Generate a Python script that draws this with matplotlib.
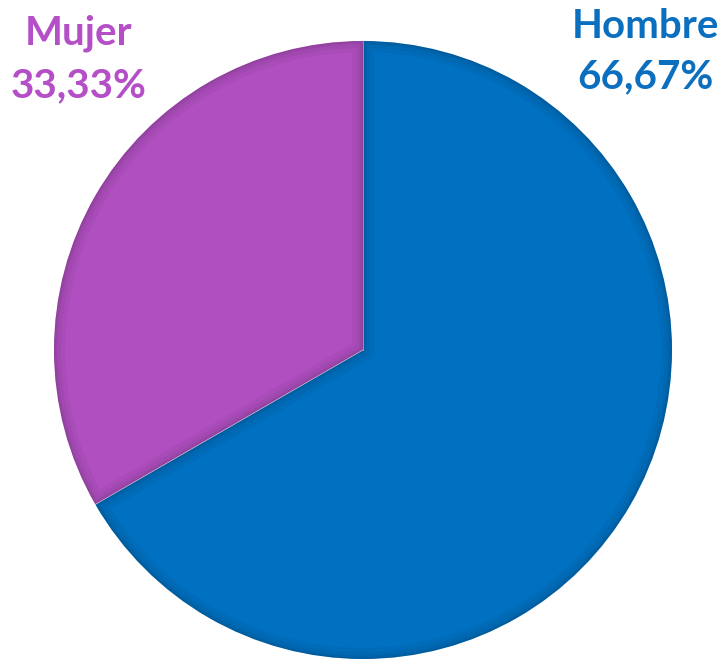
import numpy as np
import matplotlib.pyplot as plt
from matplotlib.patches import Wedge

labels = ["Hombre", "Mujer"]
values = [66.67, 33.33]
colors = ["#0070C0", "#B04FC0"]
text_colors = ["#0B6FBF", "#B54FC8"]

W, H = 724, 659
fig = plt.figure(figsize=(W / 100, H / 100), dpi=100)
ax = fig.add_axes([0, 0, 1, 1])

cx, cy, r = 363, 350, 309

# y axis is flipped below, so start at -90 (screen top) and go ccw in data = clockwise on screen
wedges, _ = ax.pie(values, colors=colors, startangle=-90, counterclock=True,
                   center=(cx, cy), radius=r, frame=True,
                   wedgeprops=dict(linewidth=0))
ax.set_xlim(0, W)
ax.set_ylim(H, 0)
ax.set_aspect("equal")
ax.axis("off")

# soft bevel: dark strokes clipped inside each wedge
for w in wedges:
    for lw, a in [(16, 0.035), (10, 0.04), (5, 0.05), (2, 0.06)]:
        edge = Wedge(w.center, w.r, w.theta1, w.theta2, fill=False,
                     edgecolor="black", linewidth=lw, alpha=a)
        ax.add_patch(edge)
        edge.set_clip_path(w)

# thin light seam between slices
for ang in [-90, -90 + 360 * values[0] / 100.0]:
    t = np.deg2rad(ang)
    ax.plot([cx, cx + r * np.cos(t)], [cy, cy + r * np.sin(t)],
            color="white", lw=0.6, alpha=0.5)

font = ["Lato", "DejaVu Sans"]
fs = 29
ax.text(645, 38, labels[0], color=text_colors[0], fontsize=fs, fontweight="bold",
        family=font, ha="center", va="baseline")
ax.text(645, 88, f"{values[0]:.2f}%".replace(".", ","), color=text_colors[0],
        fontsize=fs, fontweight="bold", family=font, ha="center", va="baseline")
ax.text(79, 45, labels[1], color=text_colors[1], fontsize=fs, fontweight="bold",
        family=font, ha="center", va="baseline")
ax.text(79, 97, f"{values[1]:.2f}%".replace(".", ","), color=text_colors[1],
        fontsize=fs, fontweight="bold", family=font, ha="center", va="baseline")

fig.savefig("out.png", dpi=100)
